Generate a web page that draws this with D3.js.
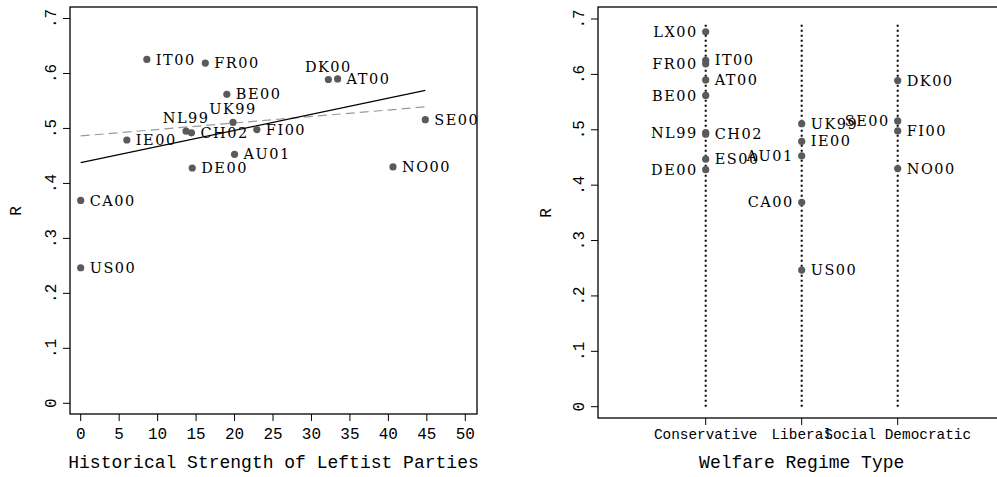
<!DOCTYPE html>
<html lang="en">
<head>
    <meta charset="UTF-8">
    <title>R by leftist strength and welfare regime</title>
    <script type="text/javascript" src="https://cdn.jsdelivr.net/npm/d3@7/dist/d3.min.js"></script>
    <style>
        body { margin: 0; background: #fff; }
        .tick-label, .axis-title { font-family: "Liberation Mono", "Courier New", monospace; fill: #000; }
        .mlabel { font-family: "DejaVu Serif", "Liberation Serif", serif; fill: #000; }
    </style>
</head>
<body>
<script type="text/javascript">
    const width = 997, height = 477;

    // data
    const countries = ['IT00', 'FR00', 'DK00', 'AT00', 'BE00', 'UK99', 'NL99', 'CH02', 'FI00', 'IE00',
        'SE00', 'AU01', 'DE00', 'NO00', 'CA00', 'US00', 'LX00', 'ES00'];
    const leftStrength = [8.6, 16.2, 32.2, 33.4, 19.0, 19.8, 13.7, 14.4, 22.9, 6.0,
        44.8, 20.0, 14.5, 40.6, 0, 0, null, null];
    const rValues = [0.6255, 0.619, 0.589, 0.590, 0.562, 0.511, 0.495, 0.492, 0.498, 0.479,
        0.516, 0.453, 0.428, 0.430, 0.369, 0.2466, 0.677, 0.447];
    const regime = ['Conservative', 'Conservative', 'Social Democratic', 'Conservative', 'Conservative', 'Liberal',
        'Conservative', 'Conservative', 'Social Democratic', 'Liberal', 'Social Democratic', 'Liberal',
        'Conservative', 'Social Democratic', 'Liberal', 'Liberal', 'Conservative', 'Conservative'];
    // label position (clock): 3 = right, 9 = left, 12 = above
    const posLeft = [3, 3, 12, 3, 3, 12, 12, 3, 3, 3, 3, 3, 3, 3, 3, 3, null, null];
    const posRight = [3, 9, 3, 3, 9, 3, 9, 3, 3, 3, 9, 9, 9, 3, 9, 3, 9, 3];
    const regimeTypes = ['Conservative', 'Liberal', 'Social Democratic'];
    const xTicks = d3.range(0, 51, 5);
    const yTicks = [0, 0.1, 0.2, 0.3, 0.4, 0.5, 0.6, 0.7];
    const yTickLabels = ['0', '.1', '.2', '.3', '.4', '.5', '.6', '.7'];

    const svg = d3.select('body').append('svg')
        .attr('width', width)
        .attr('height', height);

    const dotColor = '#5a5a5a';
    const yFmt = function (d, i) { return yTickLabels[i]; };

    // ordinary least squares
    function ols(pts) {
        const mx = d3.mean(pts, d => d[0]), my = d3.mean(pts, d => d[1]);
        const sxy = d3.sum(pts, d => (d[0] - mx) * (d[1] - my));
        const sxx = d3.sum(pts, d => (d[0] - mx) * (d[0] - mx));
        const b = sxy / sxx;
        return { a: my - b * mx, b: b };
    }

    function drawYAxis(g, y, left, title, titleX) {
        g.selectAll('line.ytick').data(yTicks).enter().append('line')
            .attr('x1', left - 7).attr('x2', left)
            .attr('y1', d => y(d)).attr('y2', d => y(d))
            .attr('stroke', '#000').attr('stroke-width', 1);
        g.selectAll('text.ylab').data(yTicks).enter().append('text')
            .attr('class', 'tick-label')
            .attr('font-size', 16)
            .attr('text-anchor', 'middle')
            .attr('transform', d => 'translate(' + (left - 14) + ',' + y(d) + ') rotate(-90)')
            .text(yFmt);
        g.append('text')
            .attr('class', 'axis-title')
            .attr('font-size', 16)
            .attr('text-anchor', 'middle')
            .attr('transform', 'translate(' + titleX + ',' + y(0.35) + ') rotate(-90)')
            .attr('dy', '0.35em')
            .text(title);
    }

    function addLabels(g, pts, xs, y, pos) {
        g.selectAll('text.mlabel').data(pts).enter().append('text')
            .attr('class', 'mlabel')
            .attr('font-size', 14.5)
            .attr('letter-spacing', 1.5)
            .attr('x', d => {
                const p = pos[d.i];
                if (p === 3) return xs(d) + 9;
                if (p === 9) return xs(d) - 8;
                return xs(d);
            })
            .attr('y', d => pos[d.i] === 12 ? y(d.r) - 13 : y(d.r))
            .attr('dy', '0.35em')
            .attr('text-anchor', d => pos[d.i] === 3 ? 'start' : (pos[d.i] === 9 ? 'end' : 'middle'))
            .text(d => d.name);
    }

    const all = countries.map((c, i) => ({ i: i, name: c, x: leftStrength[i], r: rValues[i], regime: regime[i] }));

    // ---------- left panel ----------
    const L = { left: 70, right: 477, top: 7, bottom: 414 };
    const x1 = d3.scaleLinear().domain([0, 50]).range([80.7, 465.3]);
    const y1 = d3.scaleLinear().domain([0, 0.7]).range([403.3, 18.5]);
    const g1 = svg.append('g');

    const pts1 = all.filter(d => d.x !== null);
    const fitAll = ols(pts1.map(d => [d.x, d.r]));
    const fitNoUS = ols(pts1.filter(d => d.name !== 'US00').map(d => [d.x, d.r]));
    const xr = d3.extent(pts1, d => d.x);
    const line = d3.line().x(d => x1(d[0])).y(d => y1(d[1]));

    g1.append('path')
        .datum(xr.map(v => [v, fitNoUS.a + fitNoUS.b * v]))
        .attr('d', line)
        .attr('fill', 'none')
        .attr('stroke', '#9a9a9a')
        .attr('stroke-width', 1.2)
        .attr('stroke-dasharray', '9,5');
    g1.append('path')
        .datum(xr.map(v => [v, fitAll.a + fitAll.b * v]))
        .attr('d', line)
        .attr('fill', 'none')
        .attr('stroke', '#000')
        .attr('stroke-width', 1.2);

    g1.selectAll('circle').data(pts1).enter().append('circle')
        .attr('cx', d => x1(d.x)).attr('cy', d => y1(d.r)).attr('r', 3.6)
        .attr('fill', dotColor);
    addLabels(g1, pts1, d => x1(d.x), y1, posLeft);

    g1.append('rect')
        .attr('x', L.left).attr('y', L.top)
        .attr('width', L.right - L.left).attr('height', L.bottom - L.top)
        .attr('fill', 'none').attr('stroke', '#000').attr('stroke-width', 1.3);

    g1.selectAll('line.xtick').data(xTicks).enter().append('line')
        .attr('x1', d => x1(d)).attr('x2', d => x1(d))
        .attr('y1', L.bottom).attr('y2', L.bottom + 7)
        .attr('stroke', '#000');
    g1.selectAll('text.xlab').data(xTicks).enter().append('text')
        .attr('class', 'tick-label')
        .attr('font-size', 16)
        .attr('text-anchor', 'middle')
        .attr('x', d => x1(d)).attr('y', L.bottom + 25)
        .text(d => d);
    g1.append('text')
        .attr('class', 'axis-title')
        .attr('font-size', 18)
        .attr('text-anchor', 'middle')
        .attr('x', (L.left + L.right) / 2).attr('y', 468)
        .text('Historical Strength of Leftist Parties');
    drawYAxis(g1, y1, L.left, 'R', 15);

    // ---------- right panel ----------
    const Rb = { left: 598, right: 1005, top: 7, bottom: 418 };
    const x2 = d3.scalePoint().domain(regimeTypes).range([705.7, 897.7]);
    const y2 = d3.scaleLinear().domain([0, 0.7]).range([406.7, 19]);
    const g2 = svg.append('g');

    g2.selectAll('line.vline').data(regimeTypes).enter().append('line')
        .attr('x1', d => x2(d)).attr('x2', d => x2(d))
        .attr('y1', y2(0)).attr('y2', y2(0.69))
        .attr('stroke', '#000').attr('stroke-width', 2)
        .attr('stroke-dasharray', '2,3');

    g2.selectAll('circle').data(all).enter().append('circle')
        .attr('cx', d => x2(d.regime)).attr('cy', d => y2(d.r)).attr('r', 3.6)
        .attr('fill', dotColor);
    addLabels(g2, all, d => x2(d.regime), y2, posRight);

    g2.append('rect')
        .attr('x', Rb.left).attr('y', Rb.top)
        .attr('width', Rb.right - Rb.left).attr('height', Rb.bottom - Rb.top)
        .attr('fill', 'none').attr('stroke', '#000').attr('stroke-width', 1.3);

    g2.selectAll('line.xtick').data(regimeTypes).enter().append('line')
        .attr('x1', d => x2(d)).attr('x2', d => x2(d))
        .attr('y1', Rb.bottom).attr('y2', Rb.bottom + 7)
        .attr('stroke', '#000');
    g2.selectAll('text.xlab').data(regimeTypes).enter().append('text')
        .attr('class', 'tick-label')
        .attr('font-size', 14.4)
        .attr('text-anchor', 'middle')
        .attr('x', d => x2(d)).attr('y', Rb.bottom + 21)
        .text(d => d);
    g2.append('text')
        .attr('class', 'axis-title')
        .attr('font-size', 18)
        .attr('text-anchor', 'middle')
        .attr('x', 801.7).attr('y', 468)
        .text('Welfare Regime Type');
    drawYAxis(g2, y2, Rb.left, 'R', 545);
</script>
</body>
</html>
